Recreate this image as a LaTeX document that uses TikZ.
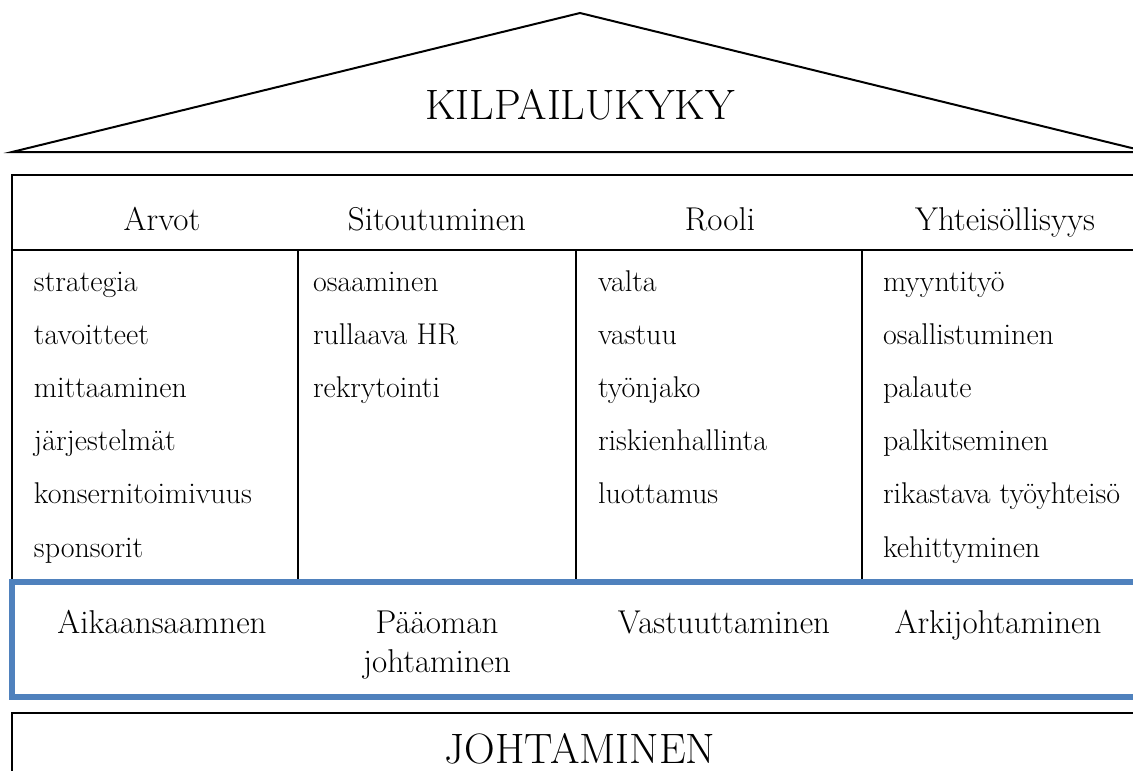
\documentclass[tikz,border=0pt]{standalone}
\usepackage{fontspec}
\usepackage{tikz}
\usetikzlibrary{positioning}
\definecolor{houseblue}{HTML}{4F81BD}

\begin{document}
\begin{tikzpicture}[x=1pt,y=-1pt,line width=2pt,
  hd/.style={inner sep=0pt,anchor=base,font=\fontsize{33}{39}\selectfont},
  item/.style={inner sep=0pt,anchor=base west,font=\fontsize{30}{36}\selectfont},
  big/.style={inner sep=0pt,anchor=base,font=\fontsize{42.5}{48}\selectfont}]
\useasboundingbox (0,0) rectangle (1133,771);
\clip (0,0) rectangle (1133,771);

% katto
\draw[line join=miter] (12,152) -- (580,13) -- (1148,152) -- cycle;
\node[big](kilp) at (580,119){KILPAILUKYKY};

% pylvaat
\draw (12,580) -- (12,175) -- (1150,175);
\draw (12,250) -- (1150,250);
\foreach \x in {298,576,862}{
  \draw (\x,250) -- (\x,580);}

\node[hd](arvot) at (162,230){Arvot};
\node[hd](sitou) at (437,230){Sitoutuminen};
\node[hd](rooli) at (720,230){Rooli};
\node[hd](yhte) at (1005,230){Yhteisöllisyys};

\foreach \t [count=\i] in {strategia,tavoitteet,mittaaminen,järjestelmät,konsernitoimivuus,sponsorit}{
  \node[item](arv\i) at (33,{291+53.2*(\i-1)}){\t};}
\foreach \t [count=\i] in {osaaminen,rullaava HR,rekrytointi}{
  \node[item](sit\i) at (312,{291+53.2*(\i-1)}){\t};}
\foreach \t [count=\i] in {valta,vastuu,työnjako,riskienhallinta,luottamus}{
  \node[item](rol\i) at (597,{291+53.2*(\i-1)}){\t};}
\foreach \t [count=\i] in {myyntityö,osallistuminen,palaute,palkitseminen,rikastava työyhteisö,kehittyminen}{
  \node[item](yht\i) at (882,{291+53.2*(\i-1)}){\t};}

% johtamisen tavat
\draw[houseblue,line width=6pt] (12,582) rectangle (1150,697);
\node[hd](aika) at (162,633){Aikaansaamnen};
\node[hd,align=center](paao) at (437,672){Pääoman\\johtaminen};
\node[hd](vast) at (724,633){Vastuuttaminen};
\node[hd](arki) at (998,633){Arkijohtaminen};

% perusta
\draw (12,790) -- (12,713) -- (1150,713);
\node[big](joht) at (580,763){JOHTAMINEN};
\end{tikzpicture}
\end{document}
